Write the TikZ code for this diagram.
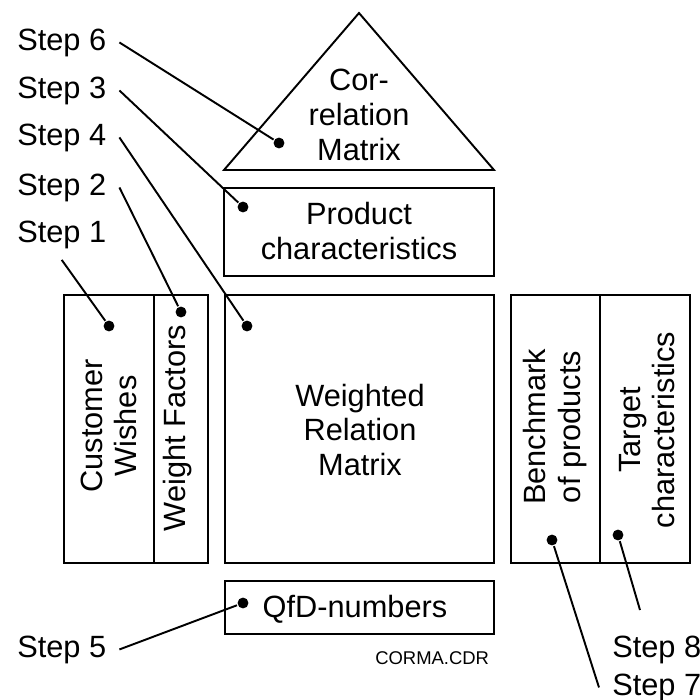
\documentclass[tikz,border=0pt]{standalone}
\usepackage{fontspec}
\setmainfont{Liberation Sans}
\begin{document}
\begin{tikzpicture}[x=0.02cm, y=-0.02cm, line width=1.1pt, font=\fontsize{17.5}{19.8}\selectfont]
    \tikzset{
        dot/.style={circle, fill, inner sep=0pt, minimum size=6.2pt},
        steplabel/.style={inner xsep=7pt, inner ysep=6pt, anchor=base west},
        field/.style={align=center, inner sep=0pt}
    }
    \useasboundingbox (0,0) rectangle (700,700);
    % roof and boxes
    \draw (224,170) -- (359,13) -- (494,170) -- cycle;
    \draw (224,188) rectangle (494,276);
    \draw (64,295) rectangle (208,563) (154,295) -- (154,563);
    \draw (225,295) rectangle (494,563);
    \draw (511,295) rectangle (690,563) (600,295) -- (600,563);
    \draw (225,581) rectangle (494,634);
    % texts
    \node[field] (corr) at (359,115) {Cor-\\relation\\Matrix};
    \node[field] (prod) at (359,231) {Product\\characteristics};
    \node[field] (wrm) at (360,430) {Weighted\\Relation\\Matrix};
    \node[field, rotate=90] (cust) at (109,426) {Customer\\Wishes};
    \node[field, rotate=90] (wf) at (178,428) {Weight Factors};
    \node[field, rotate=90] (bench) at (555,427) {Benchmark\\of products};
    \node[field, rotate=90] (targ) at (647,430) {Target\\characteristics};
    \node[field, anchor=base] (qfd) at (355,617) {QfD-numbers};
    \node[field, anchor=base east, font=\fontsize{10.5}{12}\selectfont] (file) at (490,664) {CORMA.CDR};
    % steps
    \foreach \n/\x/\y in {6/4/50, 3/4/98, 4/4/145, 2/4/195, 1/4/242, 5/4/657, 8/599/657, 7/599/695}
        \node[steplabel] (s\n) at (\x,\y) {Step \n};
    \foreach \n/\x/\y in {6/279/143, 3/243/207, 4/247/326, 2/181/312, 1/109/326, 5/243/603, 8/618/535, 7/552/540}
        \node[dot] (d\n) at (\x,\y) {};
    \foreach \n in {6,3,4,2,5}
        \draw (s\n.east) -- (d\n);
    \draw (s1.south) -- (d1);
    \draw (s7.west) -- (d7);
    \coordinate (e8) at (640,610);
    \draw (e8) -- (d8);
\end{tikzpicture}
\end{document}
